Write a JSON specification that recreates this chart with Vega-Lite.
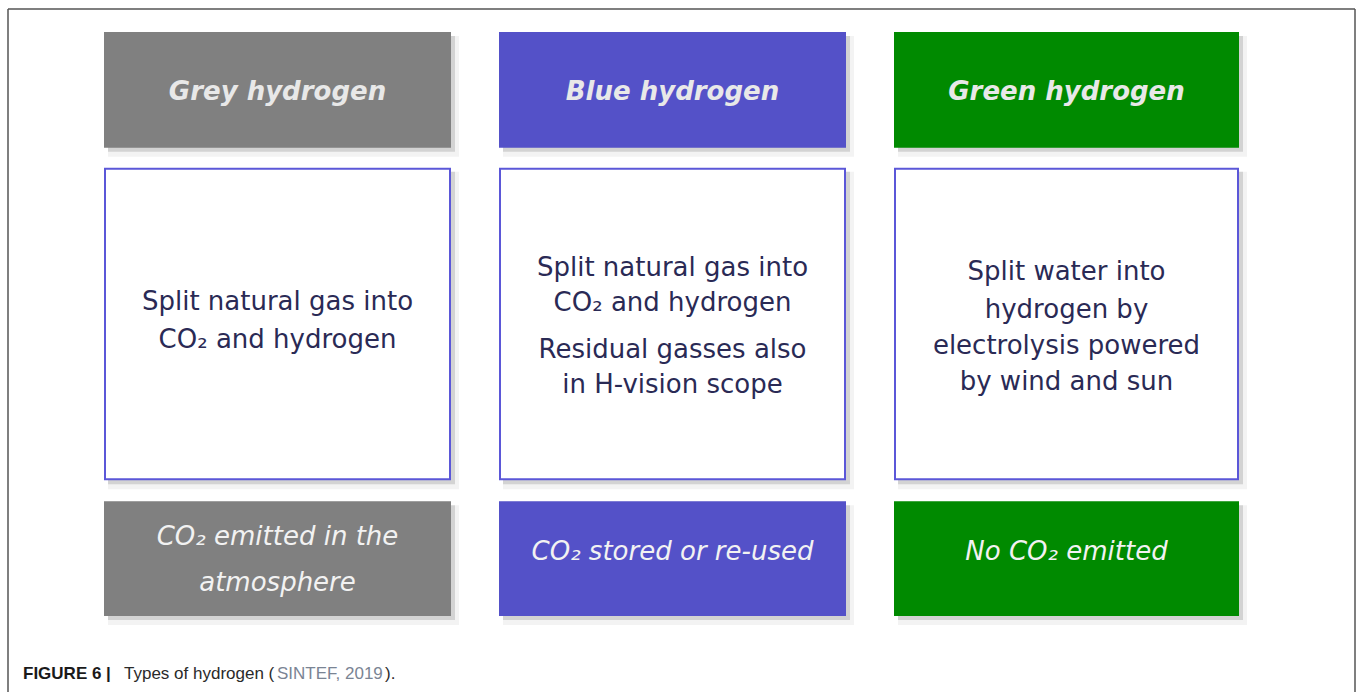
{
  "$schema": "https://vega.github.io/schema/vega-lite/v6.json",
  "autosize": {"type": "fit", "contains": "padding"},
  "width": 1358,
  "height": 693,
  "padding": 0,
  "background": "#ffffff",
  "config": {"view": {"stroke": null}},
  "datasets": {
    "boxes": [
      {"col": "Grey", "part": "head", "kind": "grey", "x1": 105, "x2": 450, "y1": 33, "y2": 147},
      {"col": "Blue", "part": "head", "kind": "blue", "x1": 500, "x2": 845, "y1": 33, "y2": 147},
      {"col": "Green", "part": "head", "kind": "green", "x1": 895, "x2": 1238, "y1": 33, "y2": 147},
      {"col": "Grey", "part": "body", "kind": "white", "x1": 105, "x2": 450, "y1": 169, "y2": 480},
      {"col": "Blue", "part": "body", "kind": "white", "x1": 500, "x2": 845, "y1": 169, "y2": 480},
      {"col": "Green", "part": "body", "kind": "white", "x1": 895, "x2": 1238, "y1": 169, "y2": 480},
      {"col": "Grey", "part": "foot", "kind": "grey", "x1": 105, "x2": 450, "y1": 503, "y2": 616},
      {"col": "Blue", "part": "foot", "kind": "blue", "x1": 500, "x2": 845, "y1": 503, "y2": 616},
      {"col": "Green", "part": "foot", "kind": "green", "x1": 895, "x2": 1238, "y1": 503, "y2": 616}
    ],
    "texts": [
      {"part": "head", "x": 277.5, "y": 92, "text": "Grey hydrogen"},
      {"part": "head", "x": 672.5, "y": 92, "text": "Blue hydrogen"},
      {"part": "head", "x": 1066.5, "y": 92, "text": "Green hydrogen"},
      {"part": "body", "x": 277.5, "y": 302, "text": "Split natural gas into"},
      {"part": "body", "x": 277.5, "y": 340, "text": "CO₂ and hydrogen"},
      {"part": "body", "x": 672.5, "y": 268, "text": "Split natural gas into"},
      {"part": "body", "x": 672.5, "y": 303, "text": "CO₂ and hydrogen"},
      {"part": "body", "x": 672.5, "y": 351, "text": "Residual gasses also"},
      {"part": "body", "x": 672.5, "y": 386, "text": "in H-vision scope"},
      {"part": "body", "x": 1066.5, "y": 272, "text": "Split water into"},
      {"part": "body", "x": 1066.5, "y": 310, "text": "hydrogen by"},
      {"part": "body", "x": 1066.5, "y": 347, "text": "electrolysis powered"},
      {"part": "body", "x": 1066.5, "y": 383, "text": "by wind and sun"},
      {"part": "foot", "x": 277.5, "y": 538, "text": "CO₂ emitted in the"},
      {"part": "foot", "x": 277.5, "y": 584, "text": "atmosphere"},
      {"part": "foot", "x": 672.5, "y": 553, "text": "CO₂ stored or re-used"},
      {"part": "foot", "x": 1066.5, "y": 553, "text": "No CO₂ emitted"}
    ],
    "caption": [
      {"seg": "bold", "x": 23, "y": 675, "text": "FIGURE 6 |"},
      {"seg": "plain", "x": 124, "y": 675, "text": "Types of hydrogen ("},
      {"seg": "link", "x": 277, "y": 675, "text": "SINTEF, 2019"},
      {"seg": "plain", "x": 385, "y": 675, "text": ")."}
    ],
    "frame": [
      {"x1": 8, "x2": 1355, "y1": 9, "y2": 9},
      {"x1": 8, "x2": 8, "y1": 9, "y2": 693},
      {"x1": 1355, "x2": 1355, "y1": 9, "y2": 693}
    ]
  },
  "encoding": {
    "x": {"field": "x1", "type": "quantitative", "scale": {"domain": [0, 1358], "nice": false, "zero": false}, "axis": null},
    "y": {"field": "y1", "type": "quantitative", "scale": {"domain": [0, 693], "nice": false, "zero": false, "reverse": true}, "axis": null}
  },
  "layer": [
    {
      "data": {"name": "frame"},
      "mark": {"type": "rule", "color": "#555555", "strokeWidth": 1.5},
      "encoding": {"x2": {"field": "x2"}, "y2": {"field": "y2"}}
    },
    {
      "data": {"name": "boxes"},
      "mark": {"type": "rect", "fill": "#9a9a9a", "opacity": 0.12, "xOffset": 3, "x2Offset": 9, "yOffset": 3, "y2Offset": 10},
      "encoding": {"x2": {"field": "x2"}, "y2": {"field": "y2"}}
    },
    {
      "data": {"name": "boxes"},
      "mark": {"type": "rect", "fill": "#8a8a8a", "opacity": 0.3, "xOffset": 3, "x2Offset": 5, "yOffset": 3, "y2Offset": 5},
      "encoding": {"x2": {"field": "x2"}, "y2": {"field": "y2"}}
    },
    {
      "data": {"name": "boxes"},
      "mark": {"type": "rect", "strokeWidth": 2, "opacity": 1},
      "encoding": {
        "x2": {"field": "x2"},
        "y2": {"field": "y2"},
        "fill": {"field": "kind", "type": "nominal", "legend": null, "scale": {"domain": ["grey", "blue", "green", "white"], "range": ["#808080", "#5451c8", "#008a00", "#ffffff"]}},
        "stroke": {"field": "kind", "type": "nominal", "legend": null, "scale": {"domain": ["grey", "blue", "green", "white"], "range": ["#808080", "#5451c8", "#008a00", "#5b57d8"]}}
      }
    },
    {
      "data": {"name": "texts"},
      "transform": [{"filter": "datum.part === 'body'"}],
      "mark": {"type": "text", "font": "DejaVu Sans", "fontSize": 26, "fill": "#2a2a55", "align": "center", "baseline": "middle"},
      "encoding": {"x": {"field": "x"}, "y": {"field": "y"}, "text": {"field": "text"}}
    },
    {
      "data": {"name": "texts"},
      "transform": [{"filter": "datum.part === 'head'"}],
      "mark": {"type": "text", "font": "DejaVu Sans", "fontSize": 26, "fontWeight": "bold", "fontStyle": "italic", "fill": "#e8e8e8", "align": "center", "baseline": "middle"},
      "encoding": {"x": {"field": "x"}, "y": {"field": "y"}, "text": {"field": "text"}}
    },
    {
      "data": {"name": "texts"},
      "transform": [{"filter": "datum.part === 'foot'"}],
      "mark": {"type": "text", "font": "DejaVu Sans", "fontSize": 26, "fontStyle": "italic", "fill": "#f2f2f2", "align": "center", "baseline": "middle"},
      "encoding": {"x": {"field": "x"}, "y": {"field": "y"}, "text": {"field": "text"}}
    },
    {
      "data": {"name": "caption"},
      "transform": [{"filter": "datum.seg === 'bold'"}],
      "mark": {"type": "text", "font": "Liberation Sans", "fontSize": 17, "fontWeight": "bold", "fill": "#1a1a1a", "align": "left", "baseline": "middle"},
      "encoding": {"x": {"field": "x"}, "y": {"field": "y"}, "text": {"field": "text"}}
    },
    {
      "data": {"name": "caption"},
      "transform": [{"filter": "datum.seg === 'plain'"}],
      "mark": {"type": "text", "font": "Liberation Sans", "fontSize": 17, "fill": "#2a2a2a", "align": "left", "baseline": "middle"},
      "encoding": {"x": {"field": "x"}, "y": {"field": "y"}, "text": {"field": "text"}}
    },
    {
      "data": {"name": "caption"},
      "transform": [{"filter": "datum.seg === 'link'"}],
      "mark": {"type": "text", "font": "Liberation Sans", "fontSize": 17, "fill": "#7a8494", "align": "left", "baseline": "middle"},
      "encoding": {"x": {"field": "x"}, "y": {"field": "y"}, "text": {"field": "text"}}
    }
  ]
}
